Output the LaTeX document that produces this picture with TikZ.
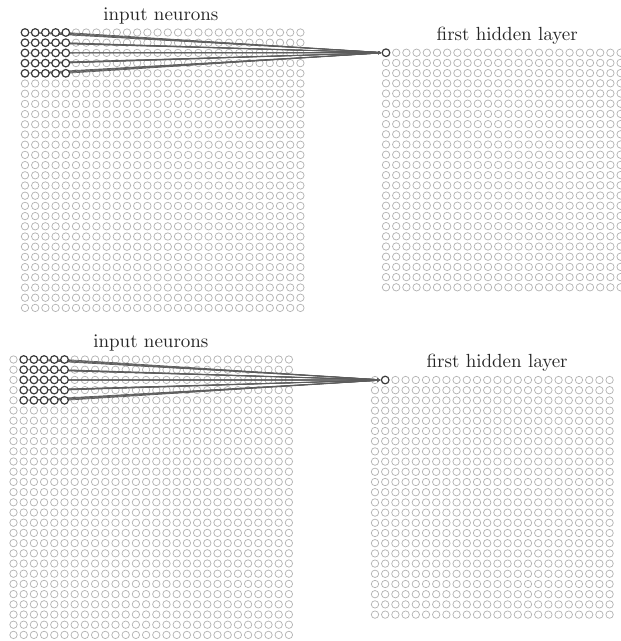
\documentclass[tikz,border=0pt]{standalone}
\usetikzlibrary{arrows.meta}
\pgfdeclarelayer{edges}
\pgfdeclarelayer{front}
\pgfsetlayers{main,edges,front}
\definecolor{faint}{HTML}{B4B4B4}
\definecolor{dark}{HTML}{3A3A3A}
\definecolor{wirec}{HTML}{5C5C5C}
\font\lblfont=cmr10 at 19pt
\begin{document}
\begin{tikzpicture}[x=1pt,y=-1pt,
  neuron/.style={circle,draw=faint,line width=0.75pt,inner sep=0pt,minimum size=7.4pt},
  active/.style={circle,draw=dark,fill=white,line width=1.2pt,inner sep=0pt,minimum size=7.6pt},
  wire/.style={draw=wirec,line width=0.7pt,-{Latex[length=3.5pt,width=2.5pt]}},
  lbl/.style={anchor=base,text=black!85,font=\lblfont}]
\useasboundingbox (0,0) rectangle (621,641);
% ---------- top panel ----------
\foreach \i in {0,...,27}{\foreach \j in {0,...,27}{
  \pgfmathtruncatemacro\act{(\i<5)&&(\j<5)}
  \ifnum\act=0 \node[neuron] (ta-\i-\j) at ({25+10.2*\i},{32.5+10.2*\j}) {};\fi
}}
\foreach \i in {0,...,23}{\foreach \j in {0,...,23}{
  \pgfmathtruncatemacro\act{(\i==0)&&(\j==0)}
  \ifnum\act=0 \node[neuron] (th-\i-\j) at ({386+10.2*\i},{52.7+10.2*\j}) {};\fi
}}
% ---------- bottom panel ----------
\foreach \i in {0,...,27}{\foreach \j in {0,...,27}{
  \pgfmathtruncatemacro\act{(\i>0)&&(\i<6)&&(\j<5)}
  \ifnum\act=0 \node[neuron] (ba-\i-\j) at ({13.5+10.2*\i},{359.5+10.2*\j}) {};\fi
}}
\foreach \i in {0,...,23}{\foreach \j in {0,...,23}{
  \pgfmathtruncatemacro\act{(\i==1)&&(\j==0)}
  \ifnum\act=0 \node[neuron] (bh-\i-\j) at ({375+10.2*\i},{380+10.2*\j}) {};\fi
}}
% ---------- active neurons ----------
\begin{pgfonlayer}{front}
\foreach \i in {0,...,4}{\foreach \j in {0,...,4}{
  \node[active] (ta-\i-\j) at ({25+10.2*\i},{32.5+10.2*\j}) {};
}}
\node[active] (th-0-0) at (386,52.7) {};
\foreach \i in {1,...,5}{\foreach \j in {0,...,4}{
  \node[active] (ba-\i-\j) at ({13.5+10.2*\i},{359.5+10.2*\j}) {};
}}
\node[active] (bh-1-0) at (385.2,380) {};
\end{pgfonlayer}
% ---------- connections ----------
\begin{pgfonlayer}{edges}
\foreach \i in {0,...,4}{\foreach \j in {0,...,4}{
  \draw[wire] (ta-\i-\j) -- (th-0-0);
}}
\foreach \i in {1,...,5}{\foreach \j in {0,...,4}{
  \draw[wire] (ba-\i-\j) -- (bh-1-0);
}}
\end{pgfonlayer}
% ---------- labels ----------
\node[lbl] (lta) at (161,20) {input neurons};
\node[lbl] (lth) at (507.3,40) {first hidden layer};
\node[lbl] (lba) at (151,347) {input neurons};
\node[lbl] (lbh) at (497.2,367) {first hidden layer};
\end{tikzpicture}
\end{document}
